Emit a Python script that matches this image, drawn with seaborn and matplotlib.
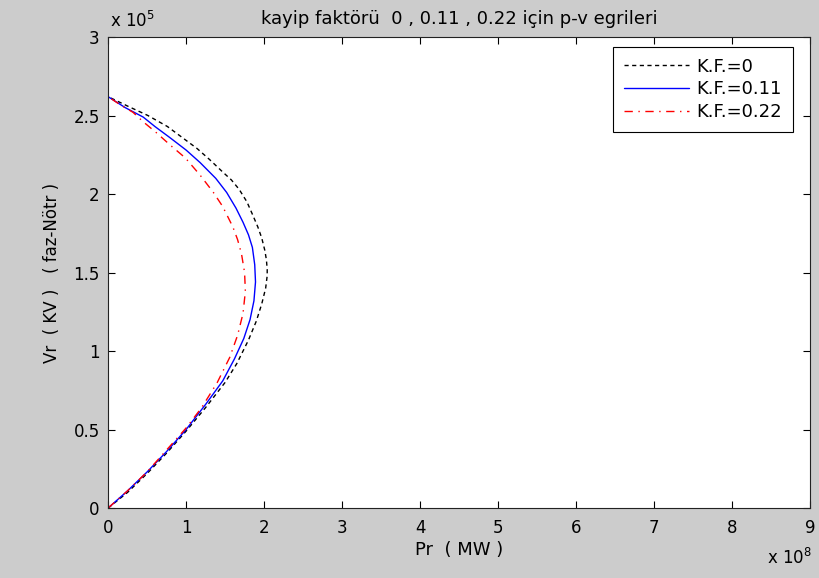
import numpy as np
import pandas as pd
import matplotlib
matplotlib.use("Agg")
import matplotlib.pyplot as plt
import seaborn as sns

# Data (P in 1e8 MW, V in 1e5 kV)
p_kf0 = [0.00, 0.25, 0.50, 0.75, 1.00, 1.25, 1.50, 1.65, 1.80, 1.90, 1.97, 2.02, 2.04,
         2.04, 2.03, 2.01, 1.97, 1.92, 1.86, 1.78, 1.68, 1.58, 1.47, 1.30, 1.14, 0.95, 0.76, 0.51, 0.25, 0.00]
v_kf0 = [0.00, 0.10, 0.22, 0.35, 0.49, 0.64, 0.80, 0.92, 1.07, 1.19, 1.30, 1.40, 1.48,
         1.52, 1.58, 1.64, 1.72, 1.79, 1.86, 1.95, 2.03, 2.09, 2.14, 2.22, 2.29, 2.36, 2.43, 2.50, 2.56, 2.62]

p_kf011 = [0.00, 0.25, 0.50, 0.75, 1.00, 1.25, 1.47, 1.62, 1.74, 1.82, 1.87, 1.89,
           1.88, 1.85, 1.80, 1.73, 1.64, 1.52, 1.38, 1.18, 1.00, 0.79, 0.60, 0.45, 0.22, 0.00]
v_kf011 = [0.00, 0.11, 0.23, 0.36, 0.50, 0.66, 0.81, 0.95, 1.08, 1.20, 1.32, 1.44,
           1.55, 1.66, 1.74, 1.82, 1.91, 2.01, 2.10, 2.20, 2.28, 2.36, 2.43, 2.49, 2.55, 2.62]

p_kf022 = [0.00, 0.25, 0.50, 0.75, 1.00, 1.20, 1.40, 1.56, 1.66, 1.73, 1.76,
           1.75, 1.71, 1.66, 1.60, 1.47, 1.35, 1.18, 0.99, 0.80, 0.62, 0.45, 0.32, 0.15, 0.00]
v_kf022 = [0.00, 0.11, 0.23, 0.37, 0.51, 0.64, 0.80, 0.96, 1.10, 1.24, 1.38,
           1.50, 1.62, 1.71, 1.79, 1.92, 2.01, 2.12, 2.23, 2.31, 2.39, 2.46, 2.52, 2.57, 2.62]

labels = ["K.F.=0", "K.F.=0.11", "K.F.=0.22"]
x_ticks = [0, 1, 2, 3, 4, 5, 6, 7, 8, 9]
y_ticks = [0, 0.5, 1, 1.5, 2, 2.5, 3]

title = "kayip faktörü  0 , 0.11 , 0.22 için p-v egrileri"
xlabel = "Pr  ( MW )"
ylabel = "Vr  ( KV )   ( faz-Nötr )"

sns.set_style("ticks")
plt.rcParams["font.family"] = ["DejaVu Sans"]
plt.rcParams["mathtext.fontset"] = "dejavusans"
plt.rcParams["text.color"] = "black"
plt.rcParams["axes.labelcolor"] = "black"

fig = plt.figure(figsize=(8.19, 5.78), dpi=100, facecolor="#cccccc")
ax = fig.add_axes([0.132, 0.121, 0.857, 0.815])
ax.set_facecolor("white")

styles = [("black", (0, (3.0, 2.5))), ("#0000ff", "-"), ("#ff0000", (0, (6, 4, 1, 4)))]
for (p, v), lab, (c, ls) in zip([(p_kf0, v_kf0), (p_kf011, v_kf011), (p_kf022, v_kf022)], labels, styles):
    df = pd.DataFrame({"p": p, "v": v})
    sns.lineplot(data=df, x="p", y="v", sort=False, estimator=None, ax=ax,
                 color=c, linestyle=ls, linewidth=1.0, label=lab)

ax.set_xlim(0, 9)
ax.set_ylim(0, 3)
ax.set_xticks(x_ticks)
ax.set_yticks(y_ticks)
ax.set_xticklabels([f"{t:g}" for t in x_ticks])
ax.set_yticklabels([f"{t:g}" for t in y_ticks])
ax.tick_params(direction="in", top=True, right=True, length=5, width=0.8,
               labelsize=12, colors="black", labelcolor="black")
ax.tick_params(axis="x", pad=8)
ax.tick_params(axis="y", pad=6)
for s in ax.spines.values():
    s.set_visible(True)
    s.set_linewidth(0.8)
    s.set_color("#222222")

ax.set_title(title, fontsize=13, pad=9, color="black")
ax.set_xlabel(xlabel, fontsize=13, labelpad=3, color="black")
ax.set_ylabel(ylabel, fontsize=12, labelpad=9, color="black")

ax.text(0.003, 1.012, r"x 10$^{5}$", transform=ax.transAxes, fontsize=12,
        ha="left", va="bottom", color="black")
ax.text(1.003, -0.085, r"x 10$^{8}$", transform=ax.transAxes, fontsize=12,
        ha="right", va="top", color="black")

leg = ax.legend(loc="upper right", bbox_to_anchor=(0.9758, 0.9788), borderaxespad=0,
                fontsize=13, frameon=True, fancybox=False, edgecolor="black", framealpha=1,
                handlelength=3.6, borderpad=0.6, labelspacing=0.25, handletextpad=0.4)
leg.get_frame().set_linewidth(0.8)
for t in leg.get_texts():
    t.set_color("black")

fig.savefig("out.png", dpi=100, facecolor=fig.get_facecolor())
